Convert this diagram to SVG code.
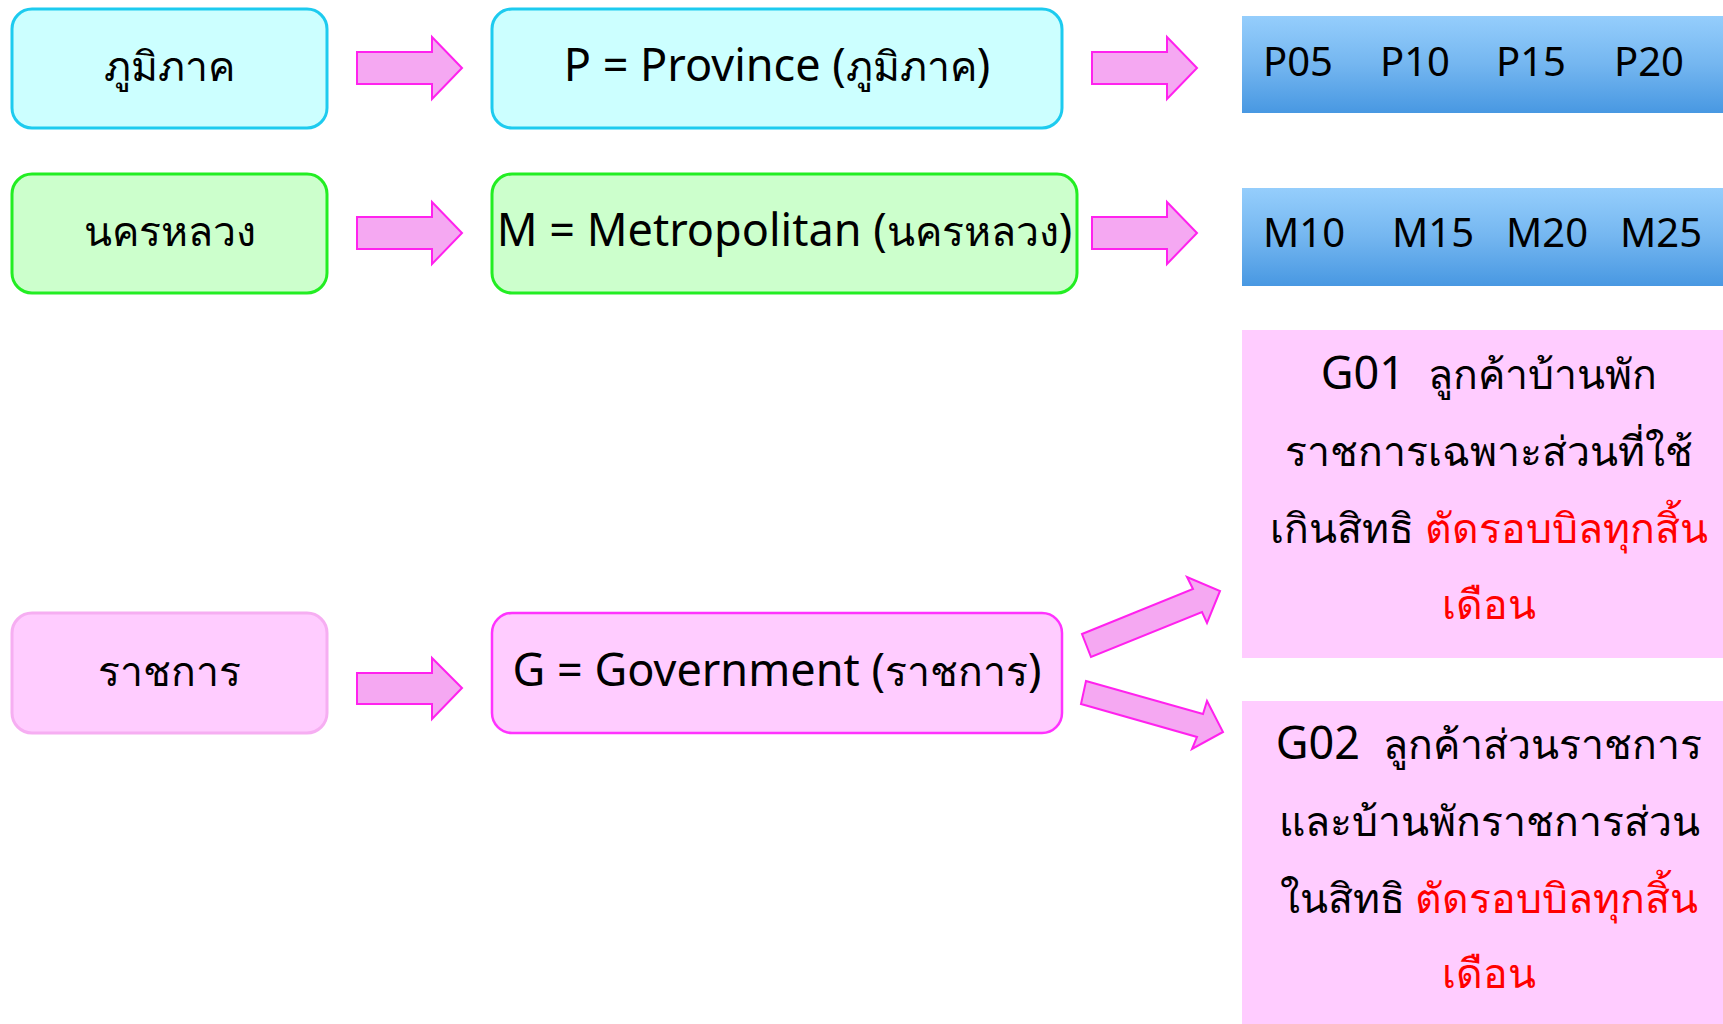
<svg xmlns="http://www.w3.org/2000/svg" width="1723" height="1024" viewBox="0 0 1723 1024">
<defs>
<linearGradient id="blue" x1="0" y1="0" x2="0" y2="1">
<stop offset="0" stop-color="#95CEFC"/>
<stop offset="0.5" stop-color="#74B6F0"/>
<stop offset="1" stop-color="#4898E2"/>
</linearGradient>
<style>
.t{font-family:"Noto Sans","DejaVu Sans",sans-serif;font-size:41px;fill:#000;text-anchor:middle;white-space:pre}
.c{font-family:"Noto Sans","DejaVu Sans",sans-serif;font-size:40px;fill:#000}
.l{font-size:45px}
.r{fill:#FF0000}
.arrow{fill:#F5A8F2;stroke:#FF22EE;stroke-width:2;stroke-linejoin:miter}
.cy{fill:#CCFFFF;stroke:#1DCBEF;stroke-width:3}
.gr{fill:#CCFFCC;stroke:#22EE22;stroke-width:3}
.pk{fill:#FFCCFF;stroke:#F6AEF2;stroke-width:3}
.pkd{fill:#FFCCFF;stroke:#FF33FF;stroke-width:2.5}
</style>
</defs>
<rect width="1723" height="1024" fill="#FFFFFF"/>

<g id="node-phumiphak">
<rect class="cy" x="12" y="9" width="315" height="119" rx="20"/>
<text class="t" x="169.5" y="81">ภูมิภาค</text>
</g>
<g id="node-province">
<rect class="cy" x="492" y="9" width="570" height="119" rx="20"/>
<text class="t" x="777" y="81"><tspan class="l">P = Province (</tspan>ภูมิภาค<tspan class="l">)</tspan></text>
</g>
<g id="node-p-codes">
<rect x="1242" y="16" width="481" height="97" fill="url(#blue)"/>
<text class="c" y="76"><tspan x="1263">P05</tspan><tspan x="1380">P10</tspan><tspan x="1496">P15</tspan><tspan x="1614">P20</tspan></text>
</g>

<g id="node-nakhonluang">
<rect class="gr" x="12" y="174" width="315" height="119" rx="20"/>
<text class="t" x="169.5" y="246">นครหลวง</text>
</g>
<g id="node-metropolitan">
<rect class="gr" x="492" y="174" width="585" height="119" rx="20"/>
<text class="t" x="784.5" y="246"><tspan class="l">M = Metropolitan (</tspan>นครหลวง<tspan class="l">)</tspan></text>
</g>
<g id="node-m-codes">
<rect x="1242" y="188" width="481" height="98" fill="url(#blue)"/>
<text class="c" y="247"><tspan x="1263">M10</tspan><tspan x="1392">M15</tspan><tspan x="1506">M20</tspan><tspan x="1620">M25</tspan></text>
</g>

<g id="node-ratchakan">
<rect class="pk" x="12" y="613" width="315" height="120" rx="20"/>
<text class="t" x="169.5" y="686">ราชการ</text>
</g>
<g id="node-government">
<rect class="pkd" x="492" y="613" width="570" height="120" rx="20"/>
<text class="t" x="777" y="686"><tspan class="l">G = Government (</tspan>ราชการ<tspan class="l">)</tspan></text>
</g>

<g id="node-g01">
<rect x="1242" y="330" width="481" height="328" fill="#FFCCFF"/>
<text class="t" x="1489" y="389"><tspan class="l">G01  </tspan>ลูกค้าบ้านพัก</text>
<text class="t" x="1489" y="466">ราชการเฉพาะส่วนที่ใช้</text>
<text class="t" x="1489" y="543">เกินสิทธิ <tspan class="r">ตัดรอบบิลทุกสิ้น</tspan></text>
<text class="t r" x="1489" y="619">เดือน</text>
</g>
<g id="node-g02">
<rect x="1242" y="701" width="481" height="323" fill="#FFCCFF"/>
<text class="t" x="1489" y="759"><tspan class="l">G02  </tspan>ลูกค้าส่วนราชการ</text>
<text class="t" x="1489" y="836">และบ้านพักราชการส่วน</text>
<text class="t" x="1489" y="913">ในสิทธิ <tspan class="r">ตัดรอบบิลทุกสิ้น</tspan></text>
<text class="t r" x="1489" y="988">เดือน</text>
</g>

<g id="connectors">
<polygon class="arrow" points="357,52 432,52 432,37 462,68 432,99 432,84 357,84"/>
<polygon class="arrow" points="1092,52 1167,52 1167,37 1197,68 1167,99 1167,84 1092,84"/>
<polygon class="arrow" points="357,217 432,217 432,202 462,233 432,264 432,249 357,249"/>
<polygon class="arrow" points="1092,217 1167,217 1167,202 1197,233 1167,264 1167,249 1092,249"/>
<polygon class="arrow" points="357,673 432,673 432,658 462,688 432,719 432,704 357,704"/>
<polygon class="arrow" points="1082,634 1193,589 1187,577 1220,591 1207,623 1202,612 1091,657"/>
<polygon class="arrow" points="1086,681 1203,714 1207,701 1223,732 1192,749 1197,737 1081,704"/>
</g>
</svg>
